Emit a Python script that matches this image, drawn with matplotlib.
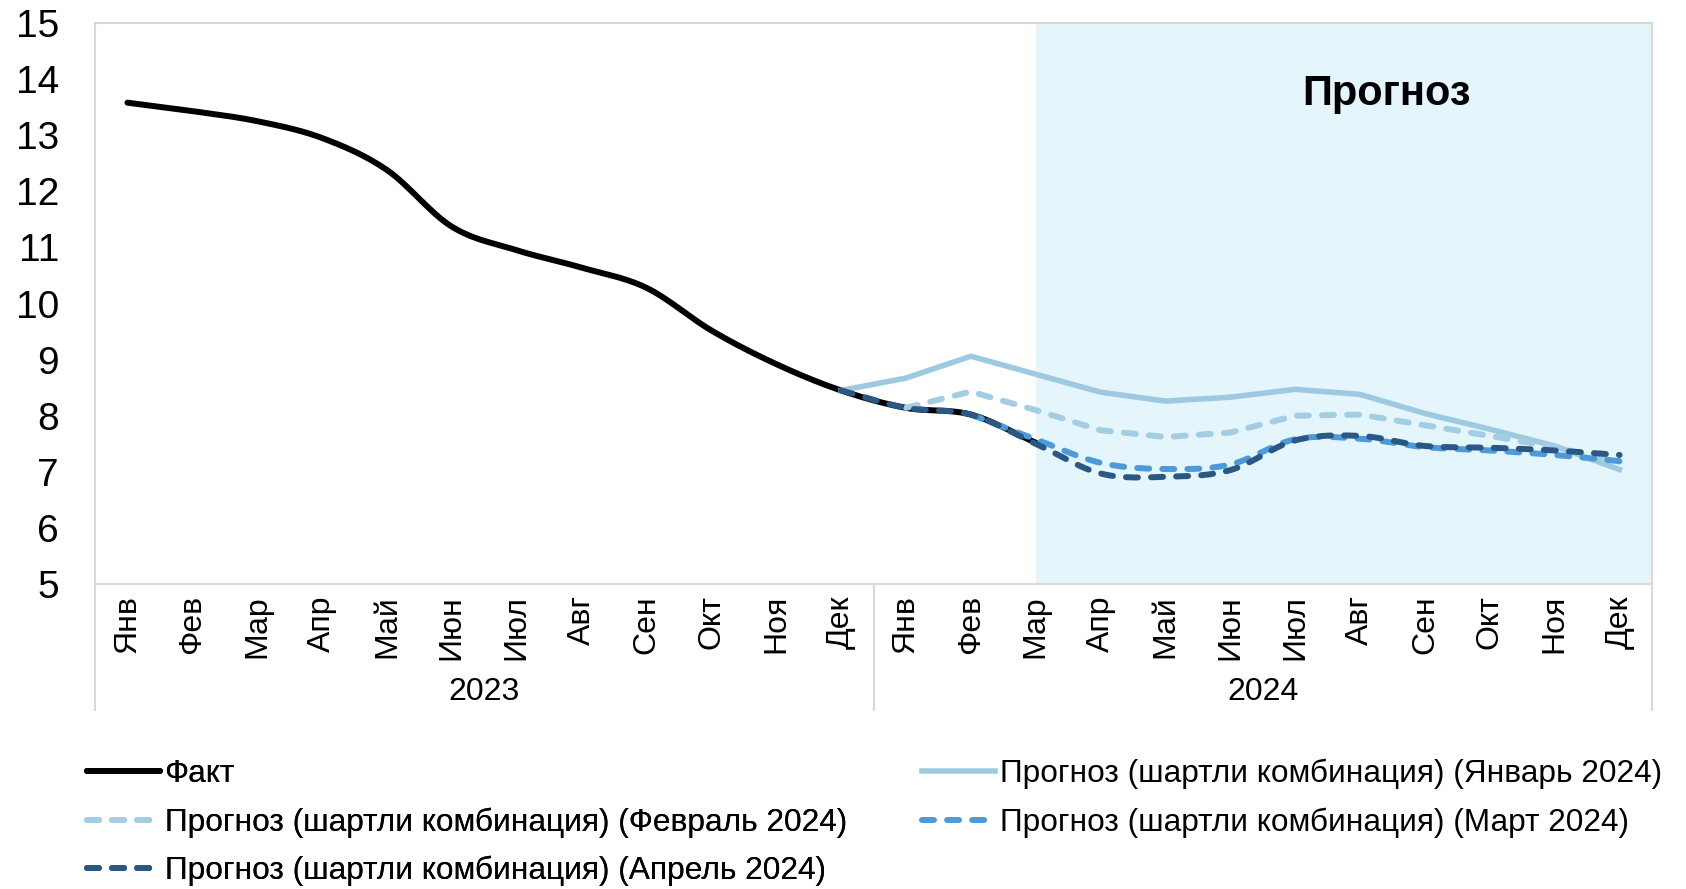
import numpy as np
import matplotlib
matplotlib.use("Agg")
import matplotlib.pyplot as plt
import matplotlib.transforms as mtransforms

plt.rcParams['font.family'] = ['Liberation Sans', 'DejaVu Sans']

# Data
months = ['Янв', 'Фев', 'Мар', 'Апр', 'Май', 'Июн',
          'Июл', 'Авг', 'Сен', 'Окт', 'Ноя', 'Дек']
years = ['2023', '2024']

# Fact: Jan 2023 .. Mar 2024
fact = [13.58, 13.43, 13.25, 12.95, 12.38, 11.37, 10.95, 10.64,
        10.28, 9.52, 8.92, 8.45, 8.14, 8.02, 7.52]
# Forecasts (start month index given separately)
fc_jan_start = 11   # Dec 2023
fc_jan = [8.45, 8.67, 9.06, 8.74, 8.42, 8.26, 8.33, 8.47, 8.38, 8.04, 7.76, 7.46, 7.04]
fc_feb_start = 12   # Jan 2024
fc_feb = [8.14, 8.43, 8.10, 7.74, 7.62, 7.70, 8.00, 8.02, 7.83, 7.64, 7.44, 7.18]
fc_mar_start = 13   # Feb 2024
fc_mar = [8.02, 7.58, 7.16, 7.05, 7.13, 7.58, 7.59, 7.44, 7.38, 7.30, 7.19]
fc_apr_start = 11   # Dec 2023
fc_apr = [8.45, 8.14, 8.02, 7.50, 6.97, 6.91, 7.03, 7.56, 7.64, 7.46, 7.43, 7.38, 7.30]

labels = ['Факт',
          'Прогноз (шартли комбинация) (Январь 2024)',
          'Прогноз (шартли комбинация) (Февраль 2024)',
          'Прогноз (шартли комбинация) (Март 2024)',
          'Прогноз (шартли комбинация) (Апрель 2024)']
colors = ['#000000', '#9DCAE1', '#A3CDE3', '#4C9AD8', '#2A5783']


def smooth(x, y, n=16):
    # Catmull-Rom curve through the points (like Excel's smoothed line)
    x = np.asarray(x, float)
    y = np.asarray(y, float)
    if len(x) < 3:
        return x, y
    px = np.concatenate([[2 * x[0] - x[1]], x, [2 * x[-1] - x[-2]]])
    py = np.concatenate([[2 * y[0] - y[1]], y, [2 * y[-1] - y[-2]]])
    xs, ys = [], []
    t = np.linspace(0, 1, n, endpoint=False)
    for i in range(1, len(px) - 2):
        p0, p1, p2, p3 = py[i - 1], py[i], py[i + 1], py[i + 2]
        q0, q1, q2, q3 = px[i - 1], px[i], px[i + 1], px[i + 2]
        t2, t3 = t * t, t * t * t
        ys.append(0.5 * (2 * p1 + (-p0 + p2) * t + (2 * p0 - 5 * p1 + 4 * p2 - p3) * t2
                         + (-p0 + 3 * p1 - 3 * p2 + p3) * t3))
        xs.append(0.5 * (2 * q1 + (-q0 + q2) * t + (2 * q0 - 5 * q1 + 4 * q2 - q3) * t2
                         + (-q0 + 3 * q1 - 3 * q2 + q3) * t3))
    xs.append([x[-1]])
    ys.append([y[-1]])
    return np.concatenate(xs), np.concatenate(ys)


fig = plt.figure(figsize=(16.86, 8.89), dpi=100)
ax = fig.add_axes([95 / 1686, 1 - 584 / 889, (1652 - 95) / 1686, (584 - 23) / 889])

n_cat = len(months) * len(years)
ax.set_xlim(-0.5, n_cat - 0.5)
ax.set_ylim(5, 15)

# forecast shading
ax.axvspan(14, n_cat - 0.5, color='#E5F5FC', zorder=0, lw=0)
ax.text(19.4, 13.74, 'Прогноз', fontsize=30, fontweight='bold', ha='center', va='center')

lw_d = 4.3
dash = (2.0, 2.2)

x_fact = np.arange(len(fact))
xs, ys = smooth(x_fact, fact)
h_fact, = ax.plot(xs, ys, color=colors[0], lw=4.3, solid_capstyle='round', zorder=3)

x = np.arange(fc_jan_start, fc_jan_start + len(fc_jan))
h_jan, = ax.plot(x, fc_jan, color=colors[1], lw=4.0, zorder=4)

x = np.arange(fc_feb_start, fc_feb_start + len(fc_feb))
h_feb, = ax.plot(x, fc_feb, color=colors[2], lw=lw_d, dashes=dash,
                 dash_capstyle='round', zorder=5)

x = np.arange(fc_mar_start, fc_mar_start + len(fc_mar))
xs, ys = smooth(x, fc_mar)
h_mar, = ax.plot(xs, ys, color=colors[3], lw=lw_d, dashes=dash,
                 dash_capstyle='round', zorder=6)

x = np.arange(fc_apr_start, fc_apr_start + len(fc_apr))
xs, ys = smooth(x, fc_apr)
h_apr, = ax.plot(xs, ys, color=colors[4], lw=lw_d, dashes=dash,
                 dash_capstyle='round', zorder=7)

# axes styling
for s in ax.spines.values():
    s.set_color('#D9D9D9')
    s.set_linewidth(1.5)
ax.set_yticks(range(5, 16))
ax.tick_params(axis='y', length=0, labelsize=28, pad=26)
ax.set_xticks(range(n_cat))
ax.set_xticklabels(months * len(years), rotation=90, fontsize=23)
ax.tick_params(axis='x', length=0, pad=8)

# multi-level category axis: separators and year labels
trans = mtransforms.blended_transform_factory(ax.transData, ax.transAxes)
for b in [-0.5, 11.5, n_cat - 0.5]:
    ax.plot([b, b], [0, -0.225], transform=trans, color='#D9D9D9', lw=1.5, clip_on=False)
for i, yr in enumerate(years):
    ax.text(i * 12 + 5.5, -0.193, yr, transform=trans, ha='center', va='center', fontsize=23)

# legend in two columns
leg_kw = dict(loc='upper left', frameon=False, fontsize=22.8, handlelength=2.3,
              handletextpad=0.15, labelspacing=0.58, borderpad=0, borderaxespad=0)
leg1 = fig.legend([h_fact, h_feb, h_apr], [labels[0], labels[2], labels[4]],
                  bbox_to_anchor=(87 / 1686, 1 - 759 / 889), **leg_kw)
leg2 = fig.legend([h_jan, h_mar], [labels[1], labels[3]],
                  bbox_to_anchor=(922 / 1686, 1 - 759 / 889), **leg_kw)
fig.add_artist(leg1)

plt.savefig("out.png", dpi=100)
